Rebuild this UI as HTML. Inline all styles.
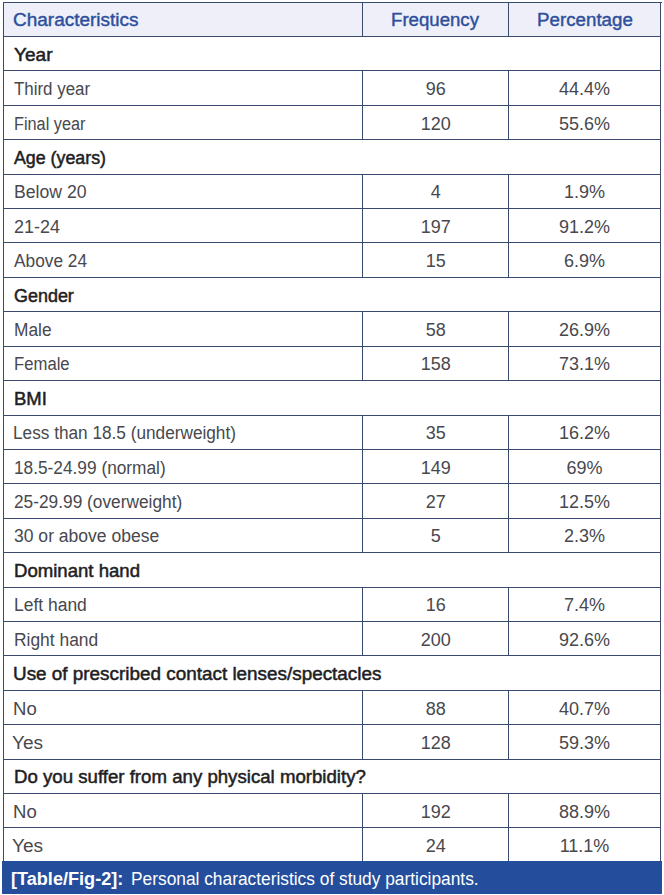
<!DOCTYPE html>
<html><head><meta charset="utf-8"><style>
html,body{margin:0;padding:0;background:#fff;}
body{width:664px;height:895px;position:relative;overflow:hidden;}
.b{position:absolute;}
.hl{height:1px;background:#394a6c;}
.vl{width:1px;background:#394a6c;}
.t{position:absolute;font-family:"Liberation Sans",Arial,sans-serif;font-size:18px;line-height:20px;height:20px;white-space:nowrap;transform-origin:0 50%;}
.hd{color:#2d4f9c;-webkit-text-stroke:0.4px #2d4f9c;}
.cat{color:#1e1e24;-webkit-text-stroke:0.5px #1e1e24;}
.dt{color:#48484e;}
.cap{position:absolute;left:2px;top:861px;width:660px;height:33px;background:#244e9c;}
.ct{position:absolute;top:869px;color:#fff;font-family:"Liberation Sans",Arial,sans-serif;font-size:18px;line-height:20px;white-space:nowrap;transform-origin:0 50%;}
</style></head><body>
<div class="b" style="left:4px;top:3px;width:656px;height:33px;background:#eeeff8"></div>
<div class="b hl" style="left:3px;top:2px;width:659px"></div>
<div class="b hl" style="left:3px;top:36px;width:658px"></div>
<div class="b hl" style="left:3px;top:70px;width:658px"></div>
<div class="b hl" style="left:3px;top:105px;width:658px"></div>
<div class="b hl" style="left:3px;top:139px;width:658px"></div>
<div class="b hl" style="left:3px;top:174px;width:658px"></div>
<div class="b hl" style="left:3px;top:208px;width:658px"></div>
<div class="b hl" style="left:3px;top:242px;width:658px"></div>
<div class="b hl" style="left:3px;top:277px;width:658px"></div>
<div class="b hl" style="left:3px;top:311px;width:658px"></div>
<div class="b hl" style="left:3px;top:346px;width:658px"></div>
<div class="b hl" style="left:3px;top:380px;width:658px"></div>
<div class="b hl" style="left:3px;top:415px;width:658px"></div>
<div class="b hl" style="left:3px;top:449px;width:658px"></div>
<div class="b hl" style="left:3px;top:483px;width:658px"></div>
<div class="b hl" style="left:3px;top:518px;width:658px"></div>
<div class="b hl" style="left:3px;top:552px;width:658px"></div>
<div class="b hl" style="left:3px;top:587px;width:658px"></div>
<div class="b hl" style="left:3px;top:621px;width:658px"></div>
<div class="b hl" style="left:3px;top:655px;width:658px"></div>
<div class="b hl" style="left:3px;top:690px;width:658px"></div>
<div class="b hl" style="left:3px;top:724px;width:658px"></div>
<div class="b hl" style="left:3px;top:759px;width:658px"></div>
<div class="b hl" style="left:3px;top:793px;width:658px"></div>
<div class="b hl" style="left:3px;top:827px;width:658px"></div>
<div class="b vl" style="left:3px;top:2px;height:859px"></div>
<div class="b vl" style="left:660px;top:2px;height:859px"></div>
<div class="b vl" style="left:362px;top:2px;height:34px"></div>
<div class="b vl" style="left:508px;top:2px;height:34px"></div>
<div id="h0" class="t hd" style="left:13.30px;top:10px;transform:scaleX(1.0545);">Characteristics</div>
<div id="h1" class="t hd" style="left:361.80px;width:146px;text-align:center;top:10px;transform:scaleX(1.0336);transform-origin:50% 50%">Frequency</div>
<div id="h2" class="t hd" style="left:508.80px;width:152px;text-align:center;top:10px;transform:scaleX(1.0399);transform-origin:50% 50%">Percentage</div>
<div id="r0a" class="t cat" style="left:13.60px;top:45px;transform:scaleX(1.0608);">Year</div>
<div class="b vl" style="left:362px;top:70px;height:35px"></div>
<div class="b vl" style="left:508px;top:70px;height:35px"></div>
<div id="r1a" class="t dt" style="left:13.75px;top:79px;transform:scaleX(0.9392);">Third year</div>
<div id="r1b" class="t dt" style="left:362.70px;width:146px;text-align:center;top:79px;transform-origin:50% 50%">96</div>
<div id="r1c" class="t dt" style="left:508.50px;width:152px;text-align:center;top:79px;transform-origin:50% 50%">44.4%</div>
<div class="b vl" style="left:362px;top:105px;height:34px"></div>
<div class="b vl" style="left:508px;top:105px;height:34px"></div>
<div id="r2a" class="t dt" style="left:14.00px;top:114px;transform:scaleX(0.9045);">Final year</div>
<div id="r2b" class="t dt" style="left:362.70px;width:146px;text-align:center;top:114px;transform-origin:50% 50%">120</div>
<div id="r2c" class="t dt" style="left:508.50px;width:152px;text-align:center;top:114px;transform-origin:50% 50%">55.6%</div>
<div id="r3a" class="t cat" style="left:14.00px;top:148px;transform:scaleX(0.9891);">Age (years)</div>
<div class="b vl" style="left:362px;top:174px;height:34px"></div>
<div class="b vl" style="left:508px;top:174px;height:34px"></div>
<div id="r4a" class="t dt" style="left:14.00px;top:182px;transform:scaleX(0.9805);">Below 20</div>
<div id="r4b" class="t dt" style="left:362.70px;width:146px;text-align:center;top:182px;transform-origin:50% 50%">4</div>
<div id="r4c" class="t dt" style="left:508.50px;width:152px;text-align:center;top:182px;transform-origin:50% 50%">1.9%</div>
<div class="b vl" style="left:362px;top:208px;height:34px"></div>
<div class="b vl" style="left:508px;top:208px;height:34px"></div>
<div id="r5a" class="t dt" style="left:14.00px;top:217px;transform:scaleX(0.9958);">21-24</div>
<div id="r5b" class="t dt" style="left:362.70px;width:146px;text-align:center;top:217px;transform-origin:50% 50%">197</div>
<div id="r5c" class="t dt" style="left:508.50px;width:152px;text-align:center;top:217px;transform-origin:50% 50%">91.2%</div>
<div class="b vl" style="left:362px;top:242px;height:35px"></div>
<div class="b vl" style="left:508px;top:242px;height:35px"></div>
<div id="r6a" class="t dt" style="left:14.00px;top:251px;transform:scaleX(0.9602);">Above 24</div>
<div id="r6b" class="t dt" style="left:362.70px;width:146px;text-align:center;top:251px;transform-origin:50% 50%">15</div>
<div id="r6c" class="t dt" style="left:508.50px;width:152px;text-align:center;top:251px;transform-origin:50% 50%">6.9%</div>
<div id="r7a" class="t cat" style="left:14.00px;top:286px;transform:scaleX(0.9967);">Gender</div>
<div class="b vl" style="left:362px;top:311px;height:35px"></div>
<div class="b vl" style="left:508px;top:311px;height:35px"></div>
<div id="r8a" class="t dt" style="left:14.00px;top:320px;transform:scaleX(0.9620);">Male</div>
<div id="r8b" class="t dt" style="left:362.70px;width:146px;text-align:center;top:320px;transform-origin:50% 50%">58</div>
<div id="r8c" class="t dt" style="left:508.50px;width:152px;text-align:center;top:320px;transform-origin:50% 50%">26.9%</div>
<div class="b vl" style="left:362px;top:346px;height:34px"></div>
<div class="b vl" style="left:508px;top:346px;height:34px"></div>
<div id="r9a" class="t dt" style="left:14.00px;top:354px;transform:scaleX(0.9271);">Female</div>
<div id="r9b" class="t dt" style="left:362.70px;width:146px;text-align:center;top:354px;transform-origin:50% 50%">158</div>
<div id="r9c" class="t dt" style="left:508.50px;width:152px;text-align:center;top:354px;transform-origin:50% 50%">73.1%</div>
<div id="r10a" class="t cat" style="left:14.00px;top:389px;transform:scaleX(1.0277);">BMI</div>
<div class="b vl" style="left:362px;top:415px;height:34px"></div>
<div class="b vl" style="left:508px;top:415px;height:34px"></div>
<div id="r11a" class="t dt" style="left:13.35px;top:423px;transform:scaleX(0.9562);">Less than 18.5 (underweight)</div>
<div id="r11b" class="t dt" style="left:362.70px;width:146px;text-align:center;top:423px;transform-origin:50% 50%">35</div>
<div id="r11c" class="t dt" style="left:508.50px;width:152px;text-align:center;top:423px;transform-origin:50% 50%">16.2%</div>
<div class="b vl" style="left:362px;top:449px;height:34px"></div>
<div class="b vl" style="left:508px;top:449px;height:34px"></div>
<div id="r12a" class="t dt" style="left:14.00px;top:458px;transform:scaleX(0.9595);">18.5-24.99 (normal)</div>
<div id="r12b" class="t dt" style="left:362.70px;width:146px;text-align:center;top:458px;transform-origin:50% 50%">149</div>
<div id="r12c" class="t dt" style="left:508.50px;width:152px;text-align:center;top:458px;transform-origin:50% 50%">69%</div>
<div class="b vl" style="left:362px;top:483px;height:35px"></div>
<div class="b vl" style="left:508px;top:483px;height:35px"></div>
<div id="r13a" class="t dt" style="left:14.00px;top:492px;transform:scaleX(0.9606);">25-29.99 (overweight)</div>
<div id="r13b" class="t dt" style="left:362.70px;width:146px;text-align:center;top:492px;transform-origin:50% 50%">27</div>
<div id="r13c" class="t dt" style="left:508.50px;width:152px;text-align:center;top:492px;transform-origin:50% 50%">12.5%</div>
<div class="b vl" style="left:362px;top:518px;height:34px"></div>
<div class="b vl" style="left:508px;top:518px;height:34px"></div>
<div id="r14a" class="t dt" style="left:14.00px;top:526px;transform:scaleX(0.9741);">30 or above obese</div>
<div id="r14b" class="t dt" style="left:362.70px;width:146px;text-align:center;top:526px;transform-origin:50% 50%">5</div>
<div id="r14c" class="t dt" style="left:508.50px;width:152px;text-align:center;top:526px;transform-origin:50% 50%">2.3%</div>
<div id="r15a" class="t cat" style="left:14.00px;top:561px;transform:scaleX(1.0319);">Dominant hand</div>
<div class="b vl" style="left:362px;top:587px;height:34px"></div>
<div class="b vl" style="left:508px;top:587px;height:34px"></div>
<div id="r16a" class="t dt" style="left:14.00px;top:595px;transform:scaleX(0.9697);">Left hand</div>
<div id="r16b" class="t dt" style="left:362.70px;width:146px;text-align:center;top:595px;transform-origin:50% 50%">16</div>
<div id="r16c" class="t dt" style="left:508.50px;width:152px;text-align:center;top:595px;transform-origin:50% 50%">7.4%</div>
<div class="b vl" style="left:362px;top:621px;height:34px"></div>
<div class="b vl" style="left:508px;top:621px;height:34px"></div>
<div id="r17a" class="t dt" style="left:14.00px;top:630px;transform:scaleX(0.9669);">Right hand</div>
<div id="r17b" class="t dt" style="left:362.70px;width:146px;text-align:center;top:630px;transform-origin:50% 50%">200</div>
<div id="r17c" class="t dt" style="left:508.50px;width:152px;text-align:center;top:630px;transform-origin:50% 50%">92.6%</div>
<div id="r18a" class="t cat" style="left:13.30px;top:664px;transform:scaleX(1.0492);">Use of prescribed contact lenses/spectacles</div>
<div class="b vl" style="left:362px;top:690px;height:34px"></div>
<div class="b vl" style="left:508px;top:690px;height:34px"></div>
<div id="r19a" class="t dt" style="left:13.10px;top:699px;transform:scaleX(1.0306);">No</div>
<div id="r19b" class="t dt" style="left:362.70px;width:146px;text-align:center;top:699px;transform-origin:50% 50%">88</div>
<div id="r19c" class="t dt" style="left:508.50px;width:152px;text-align:center;top:699px;transform-origin:50% 50%">40.7%</div>
<div class="b vl" style="left:362px;top:724px;height:35px"></div>
<div class="b vl" style="left:508px;top:724px;height:35px"></div>
<div id="r20a" class="t dt" style="left:12.10px;top:733px;transform:scaleX(1.0586);">Yes</div>
<div id="r20b" class="t dt" style="left:362.70px;width:146px;text-align:center;top:733px;transform-origin:50% 50%">128</div>
<div id="r20c" class="t dt" style="left:508.50px;width:152px;text-align:center;top:733px;transform-origin:50% 50%">59.3%</div>
<div id="r21a" class="t cat" style="left:14.20px;top:767px;transform:scaleX(1.0355);">Do you suffer from any physical morbidity?</div>
<div class="b vl" style="left:362px;top:793px;height:34px"></div>
<div class="b vl" style="left:508px;top:793px;height:34px"></div>
<div id="r22a" class="t dt" style="left:13.10px;top:802px;transform:scaleX(1.0306);">No</div>
<div id="r22b" class="t dt" style="left:362.70px;width:146px;text-align:center;top:802px;transform-origin:50% 50%">192</div>
<div id="r22c" class="t dt" style="left:508.50px;width:152px;text-align:center;top:802px;transform-origin:50% 50%">88.9%</div>
<div class="b vl" style="left:362px;top:827px;height:34px"></div>
<div class="b vl" style="left:508px;top:827px;height:34px"></div>
<div id="r23a" class="t dt" style="left:12.10px;top:836px;transform:scaleX(1.0586);">Yes</div>
<div id="r23b" class="t dt" style="left:362.70px;width:146px;text-align:center;top:836px;transform-origin:50% 50%">24</div>
<div id="r23c" class="t dt" style="left:508.50px;width:152px;text-align:center;top:836px;transform-origin:50% 50%">11.1%</div>
<div class="cap"></div>
<div id="c1" class="ct" style="left:11.40px;font-weight:bold;transform:scaleX(1.0056)">[Table/Fig-2]:</div>
<div id="c2" class="ct" style="left:131.40px;transform:scaleX(0.9626)">Personal characteristics of study participants.</div>
</body></html>
